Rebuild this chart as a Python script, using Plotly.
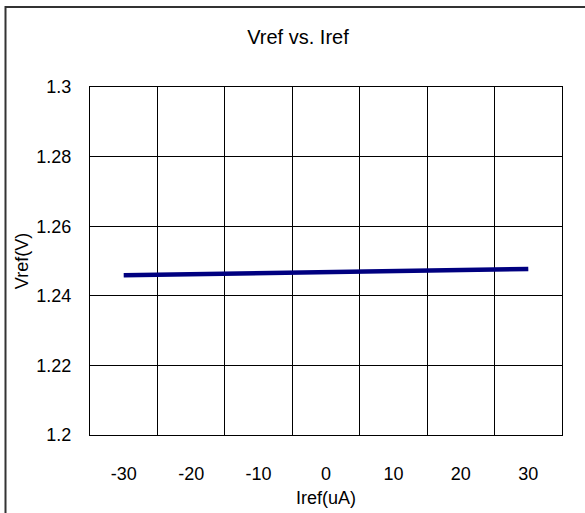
import plotly.graph_objects as go

iref_labels = ["-30", "-20", "-10", "0", "10", "20", "30"]
vref_values = [1.2459, 1.2462, 1.2465, 1.2468, 1.2471, 1.2474, 1.2477]
y_ticks = [1.2, 1.22, 1.24, 1.26, 1.28, 1.3]
y_tick_text = ["1.2", "1.22", "1.24", "1.26", "1.28", "1.3"]

W, H = 585, 513
L, R, T, B = 90, 23, 87, 78
pw, ph = W - L - R, H - T - B

FONT = "Liberation Sans, Arial, sans-serif"

fig = go.Figure()
fig.add_trace(go.Scatter(
    x=iref_labels, y=vref_values, mode="lines",
    line=dict(color="#000080", width=4.5),
    showlegend=False, hoverinfo="x+y",
))

fig.update_layout(
    width=W, height=H,
    margin=dict(l=L, r=R, t=T, b=B, autoexpand=False),
    paper_bgcolor="white", plot_bgcolor="white",
    font=dict(family=FONT, size=18, color="black"),
    title=dict(text="Vref vs. Iref", x=298 / W, xref="container", xanchor="center",
               y=1 - 37 / H, yref="container", yanchor="middle",
               font=dict(size=20, family=FONT, color="black")),
    xaxis=dict(
        type="category", tickson="boundaries", range=[-0.5, 6.5],
        showgrid=True, gridcolor="black", gridwidth=1,
        showline=True, linecolor="black", linewidth=1, mirror=True,
        ticks="", ticklabelstandoff=22,
        tickfont=dict(size=18),
        title=dict(text="Iref(uA)", standoff=8, font=dict(size=18)),
        zeroline=False, fixedrange=True, automargin=False,
    ),
    yaxis=dict(
        range=[1.2, 1.3], tickvals=y_ticks, ticktext=y_tick_text,
        showgrid=True, gridcolor="black", gridwidth=1,
        showline=True, linecolor="black", linewidth=1, mirror=True,
        ticks="", ticklabelstandoff=14,
        tickfont=dict(size=18),
        title=dict(text="Vref(V)", standoff=3, font=dict(size=18)),
        zeroline=False, fixedrange=True, automargin=False,
    ),
)

# outer chart border (only top/left visible in the cropped reference)
fig.add_shape(type="rect", xref="paper", yref="paper",
              x0=(5.5 - L) / pw, x1=1.2, y0=-0.4, y1=(H - B - 7) / ph,
              line=dict(color="#333333", width=2), layer="above")

fig.write_html("out.html", config={"displayModeBar": False},
               post_script="document.body.style.margin='0px';")
